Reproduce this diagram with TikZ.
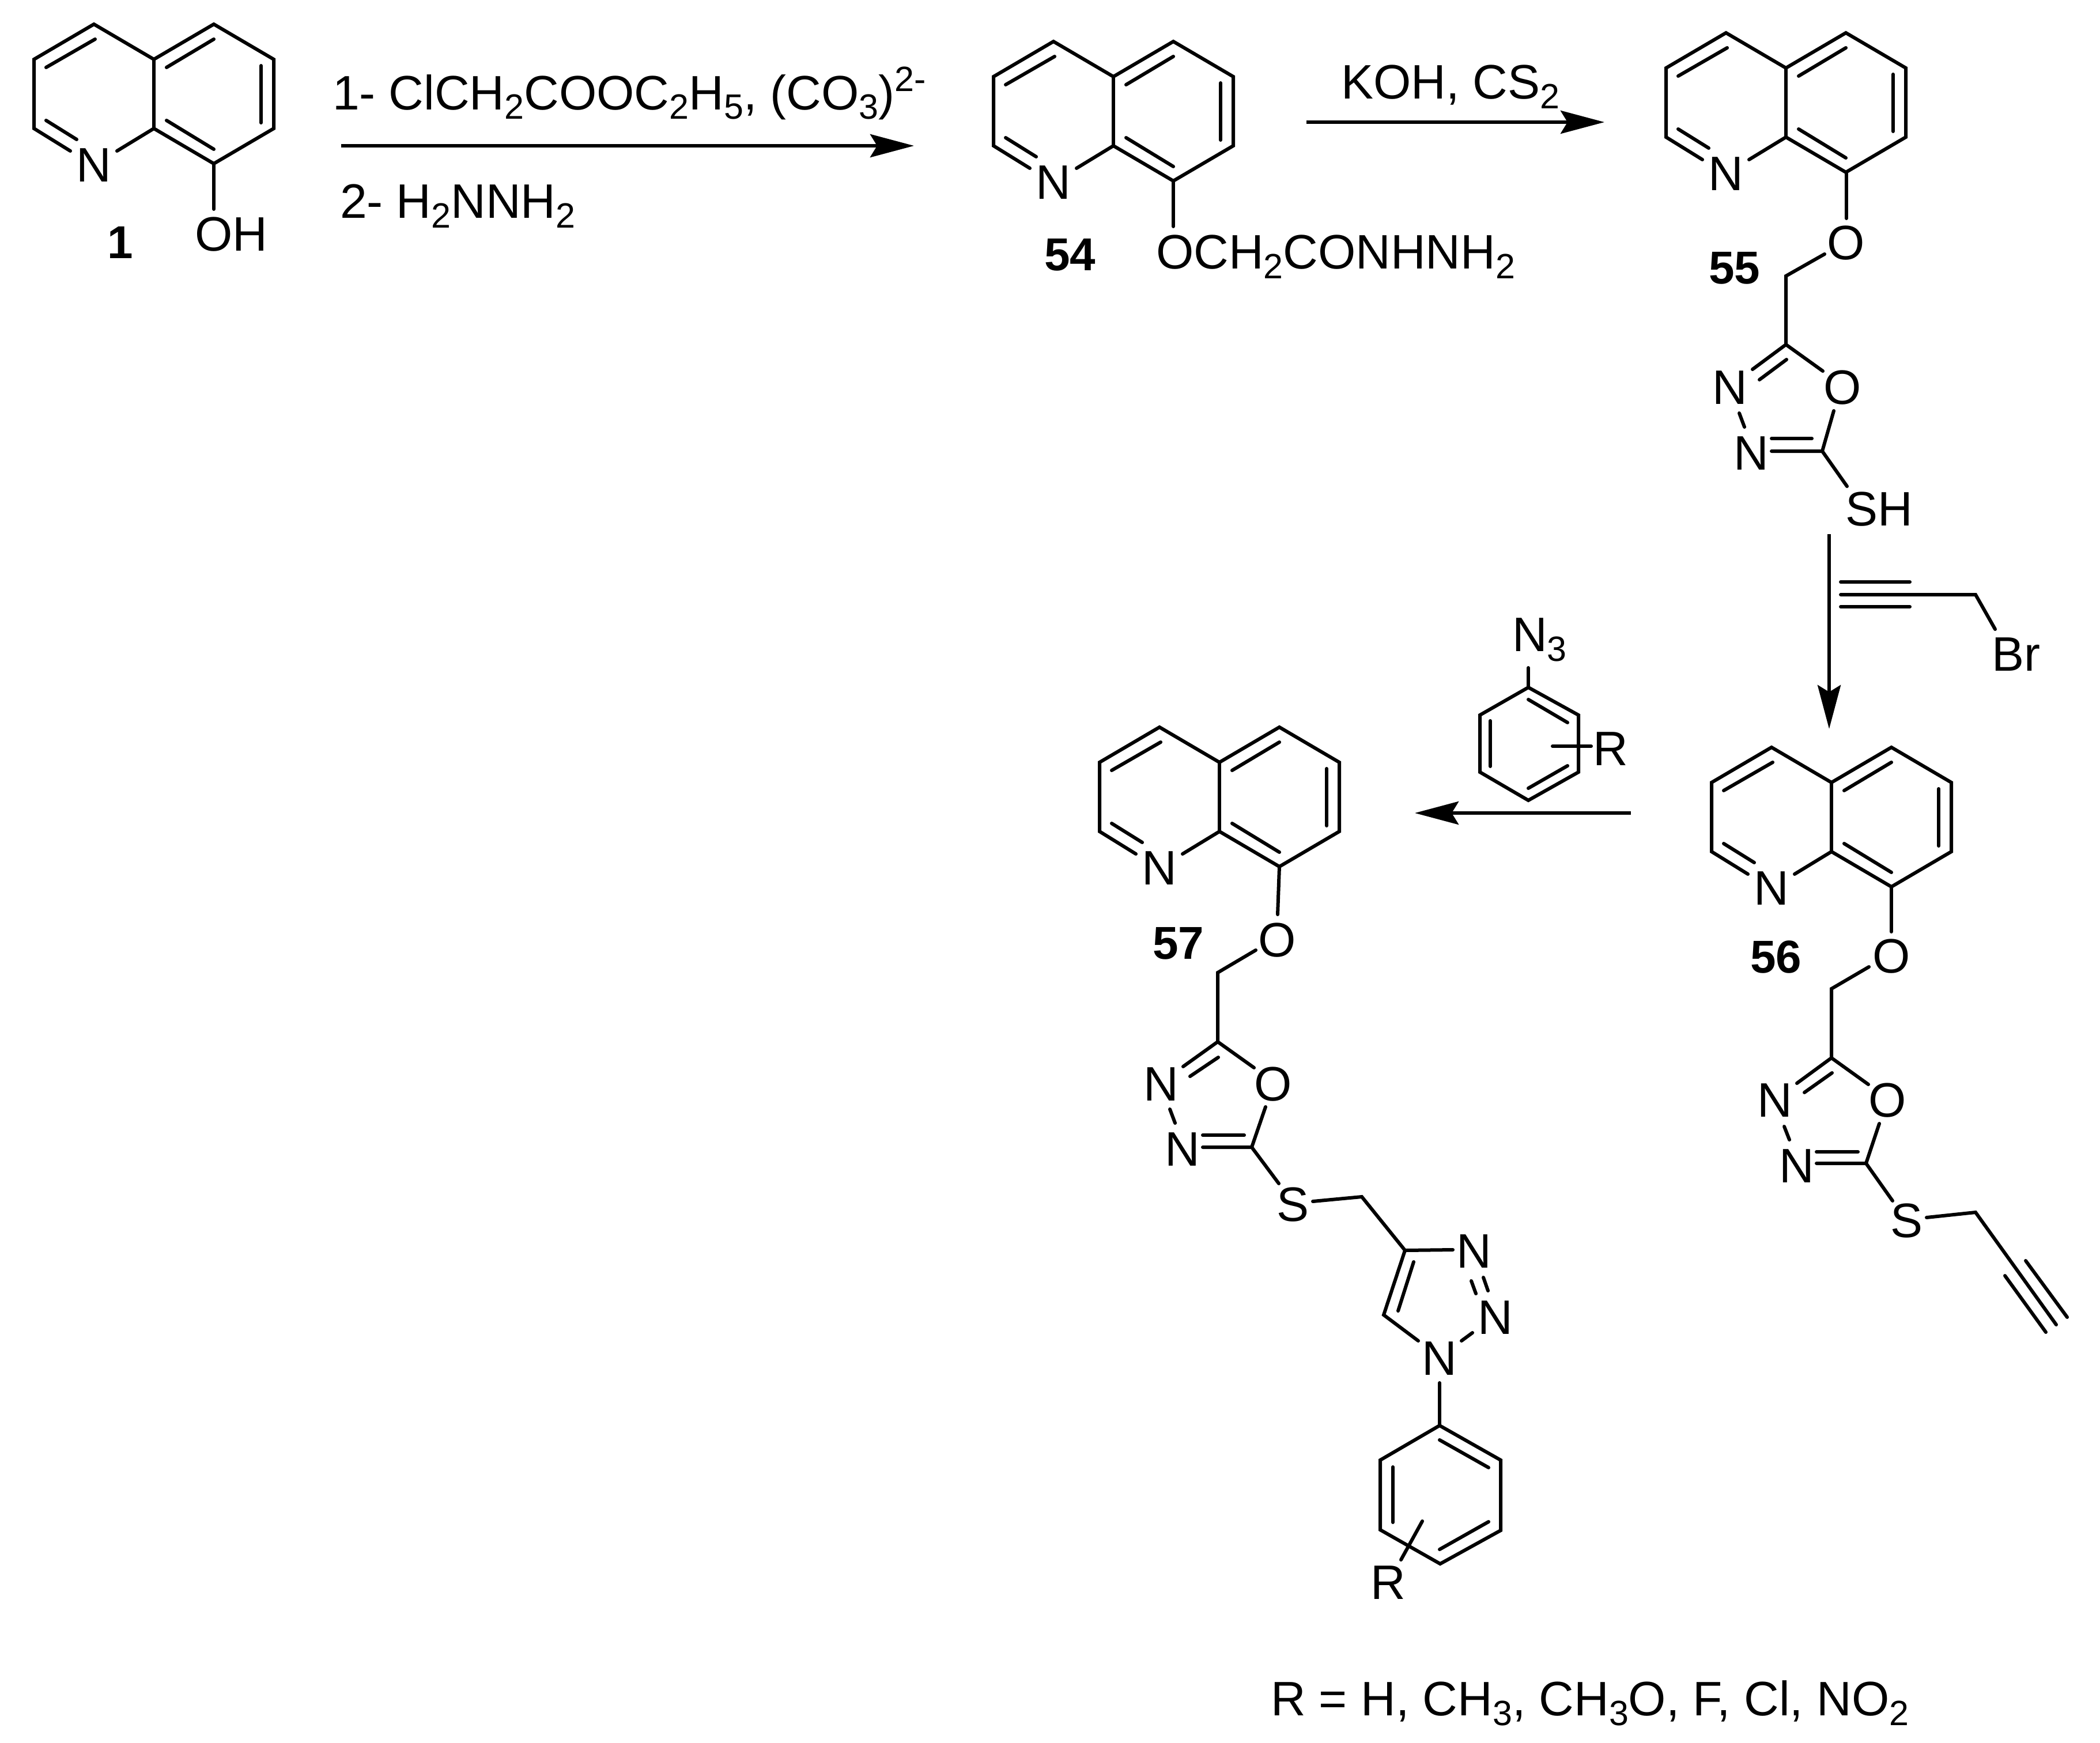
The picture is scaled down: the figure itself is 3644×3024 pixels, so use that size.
\documentclass[tikz,border=0pt]{standalone}
\usepackage{fontspec}
\setmainfont{Liberation Sans}
\usetikzlibrary{arrows.meta}
\newcommand{\sbs}[1]{\raisebox{-8.5pt}{\fontsize{30.5}{30.5}\selectfont #1}}
\newcommand{\sps}[1]{\raisebox{16pt}{\fontsize{30.5}{30.5}\selectfont #1}}
\tikzset{
  bond/.style={line width=3pt,line cap=round,line join=miter,black},
  atom/.style={inner sep=0pt,outer sep=0pt,font=\fontsize{42}{42}\selectfont,text=black},
  txt/.style={atom,anchor=base west},
  cmpd/.style={atom,anchor=base west,font=\fontsize{40}{40}\selectfont\bfseries},
  rxn/.style={line width=3pt,black,-{Stealth[length=38pt,width=20pt,inset=6pt]}}
}
\newcommand{\quin}[3]{%
  \begin{scope}[shift={(#2,#3)}]
    \node[atom] (#1N) at (-104,184) {N};
    \draw[bond] (-145,159) -- (-208,120) -- (-208,0) -- (-104,-61) -- (0,0) -- (104,-61) -- (208,0) -- (208,120) -- (104,181) -- (0,120) -- (-64,159);
    \draw[bond] (0,0) -- (0,120);
    \draw[bond] (-102,-35) -- (-187,14);
    \draw[bond] (-187,106) -- (-134,139);
    \draw[bond] (104,-35) -- (22,14);
    \draw[bond] (186,11) -- (186,110);
    \draw[bond] (22,106) -- (104,156);
  \end{scope}}
\begin{document}
\begin{tikzpicture}[x=0.5pt,y=-0.5pt]
\useasboundingbox (0,0) rectangle (3644,3024);

% compound 1
\quin{a}{267}{103}
\draw[bond] (371,284) -- (371,363);
\node[txt] (aOH) at (338,435) {OH};
\node[cmpd] (aL) at (186,448) {1};

% reagents 1 -> 54
\node[txt] (r1) at (577,190) {1- ClCH\sbs{2}COOC\sbs{2}H\sbs{5}, (CO\sbs{3})\sps{2-}};
\node[txt] (r2) at (590,378) {2- H\sbs{2}NNH\sbs{2}};
\coordinate (a1s) at (592,253);
\coordinate (a1e) at (1586,253);
\draw[rxn] (a1s) -- (a1e);

% compound 54
\quin{b}{1932}{133}
\draw[bond] (2036,314) -- (2036,393);
\node[txt] (bR) at (2006,466) {OCH\sbs{2}CONHNH\sbs{2}};
\node[cmpd] (bL) at (1812,469) {54};

% KOH
\node[txt] (r3) at (2327,171) {KOH, CS\sbs{2}};
\coordinate (a2s) at (2267,212);
\coordinate (a2e) at (2784,212);
\draw[rxn] (a2s) -- (a2e);

% compound 55
\quin{c}{3099}{118}
\draw[bond] (3204,299) -- (3204,379);
\node[atom] (cO) at (3203,422) {O};
\draw[bond] (3166,441) -- (3099,479) -- (3099,598) -- (3163,644);
\draw[bond] (3099,598) -- (3041,641);
\draw[bond] (3100,624) -- (3053,659);
\node[atom] (cN1) at (3002,673) {N};
\node[atom] (cO1) at (3197,673) {O};
\draw[bond] (3018,717) -- (3027,741);
\node[atom] (cN2) at (3039,787) {N};
\draw[bond] (3074,783) -- (3162,783) -- (3182,713);
\draw[bond] (3074,761) -- (3144,761);
\draw[bond] (3162,783) -- (3205,844);
\node[txt] (cSH) at (3202,912) {SH};
\node[cmpd] (cL) at (2965,492) {55};

% arrow 55 -> 56
\coordinate (a3s) at (3174,927);
\coordinate (a3e) at (3174,1265);
\draw[rxn] (a3s) -- (a3e);

% propargyl bromide
\draw[bond] (3194,1010) -- (3314,1010);
\draw[bond] (3194,1032) -- (3428,1032) -- (3462,1092);
\draw[bond] (3194,1053) -- (3314,1053);
\node[txt] (pBr) at (3456,1164) {Br};

% compound 56
\quin{d}{3178}{1358}
\draw[bond] (3282,1539) -- (3282,1617);
\node[atom] (dO) at (3282,1660) {O};
\node[cmpd] (dL) at (3037,1688) {56};
\draw[bond] (3243,1678) -- (3178,1716) -- (3178,1836) -- (3242,1882);
\draw[bond] (3178,1836) -- (3118,1880);
\draw[bond] (3179,1862) -- (3131,1896);
\node[atom] (dN1) at (3080,1910) {N};
\node[atom] (dO1) at (3275,1910) {O};
\draw[bond] (3096,1955) -- (3105,1978);
\node[atom] (dN2) at (3118,2024) {N};
\draw[bond] (3152,2019) -- (3238,2019) -- (3261,1950);
\draw[bond] (3152,1999) -- (3224,1999);
\draw[bond] (3238,2019) -- (3284,2084);
\node[atom] (dS) at (3308,2119) {S};
\draw[bond] (3343,2113) -- (3428,2104) -- (3568,2299);
\draw[bond] (3515,2188) -- (3587,2286);
\draw[bond] (3479,2214) -- (3550,2312);

% aryl azide
\node[txt] (eN) at (2624,1130) {N\sbs{3}};
\draw[bond] (2652,1159) -- (2652,1193);
\draw[bond] (2652,1193) -- (2739,1241) -- (2739,1340) -- (2652,1389) -- (2568,1340) -- (2568,1241) -- cycle;
\draw[bond] (2652,1214) -- (2720,1254);
\draw[bond] (2586,1251) -- (2586,1330);
\draw[bond] (2652,1368) -- (2720,1329);
\draw[bond] (2694,1295) -- (2761,1295);
\node[txt] (eR) at (2764,1328) {R};

% arrow 56 -> 57
\coordinate (a4s) at (2830,1411);
\coordinate (a4e) at (2455,1411);
\draw[rxn] (a4s) -- (a4e);

% compound 57
\quin{f}{2116}{1323}
\draw[bond] (2220,1504) -- (2217,1587);
\node[atom] (fO) at (2216,1632) {O};
\node[cmpd] (fL) at (2000,1664) {57};
\draw[bond] (2179,1649) -- (2113,1688) -- (2113,1808) -- (2176,1853);
\draw[bond] (2113,1808) -- (2053,1851);
\draw[bond] (2114,1835) -- (2065,1868);
\node[atom] (fN1) at (2015,1882) {N};
\node[atom] (fO1) at (2209,1882) {O};
\draw[bond] (2030,1925) -- (2039,1949);
\node[atom] (fN2) at (2052,1995) {N};
\draw[bond] (2087,1991) -- (2172,1991) -- (2196,1921);
\draw[bond] (2087,1970) -- (2159,1970);
\draw[bond] (2172,1991) -- (2219,2054);
\node[atom] (fS) at (2243,2091) {S};
\draw[bond] (2278,2085) -- (2363,2077) -- (2438,2170) -- (2521,2169);
\draw[bond] (2438,2170) -- (2401,2282) -- (2461,2327);
\draw[bond] (2453,2190) -- (2426,2275);
\node[atom] (fN3) at (2558,2172) {N};
\draw[bond] (2574,2217) -- (2582,2240);
\draw[bond] (2553,2223) -- (2561,2245);
\node[atom] (fN4) at (2595,2287) {N};
\draw[bond] (2555,2313) -- (2536,2327);
\node[atom] (fN5) at (2498,2358) {N};
\draw[bond] (2498,2400) -- (2498,2474);
\draw[bond] (2498,2474) -- (2604,2534) -- (2604,2656) -- (2499,2714) -- (2395,2655) -- (2395,2534) -- cycle;
\draw[bond] (2498,2499) -- (2583,2547);
\draw[bond] (2583,2641) -- (2498,2689);
\draw[bond] (2417,2546) -- (2417,2642);
\draw[bond] (2468,2640) -- (2431,2707);
\node[txt] (fR) at (2378,2775) {R};

% R list
\node[txt] (rlist) at (2205,2977) {R = H, CH\sbs{3}, CH\sbs{3}O, F, Cl, NO\sbs{2}};
\end{tikzpicture}
\end{document}
